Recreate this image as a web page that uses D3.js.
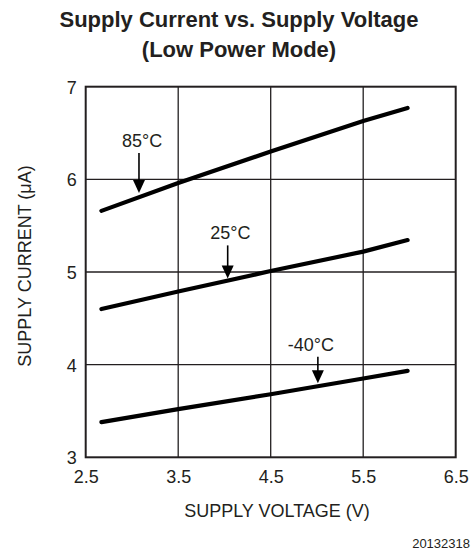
<!DOCTYPE html>
<html>
<head>
<meta charset="utf-8">
<script src="https://cdn.jsdelivr.net/npm/d3@7"></script>
<style>
  html, body { margin: 0; padding: 0; background: #fff; }
  svg { display: block; font-family: Arial, "Liberation Sans", Helvetica, sans-serif; }
</style>
</head>
<body>
<svg id="chart" width="473" height="552"></svg>
<script>
// Supply voltage sample points (V)
const voltage = [2.67, 3.5, 4.5, 5.5, 5.98];
// Supply current (µA) per temperature
const current85 = [5.66, 5.96, 6.30, 6.63, 6.77];
const current25 = [4.60, 4.79, 5.01, 5.22, 5.345];
const currentM40 = [3.38, 3.52, 3.68, 3.85, 3.933];

const seriesNames = ["85°C", "25°C", "-40°C"];
const seriesValues = [current85, current25, currentM40];

// Annotation arrows: label, arrow voltage, label voltage, label current, arrow tip current
const annoLabels = ["85°C", "25°C", "-40°C"];
const annoArrowV = [3.076, 4.035, 5.01];
const annoLabelV = [3.109, 4.065, 4.935];
const annoLabelI = [6.349, 5.352, 4.149];
const annoTipI = [5.852, 4.931, 3.80];

const xTicks = [2.5, 3.5, 4.5, 5.5, 6.5];
const yTicks = [3, 4, 5, 6, 7];

const svg = d3.select("#chart");
const plotLeft = 85.7, plotRight = 455.7, plotTop = 86.7, plotBottom = 457.3;

const x = d3.scaleLinear().domain([2.5, 6.5]).range([plotLeft, plotRight]);
const y = d3.scaleLinear().domain([3, 7]).range([plotBottom, plotTop]);

// Title
const title = svg.append("text")
  .attr("text-anchor", "middle")
  .attr("font-weight", "bold").attr("font-size", 22).attr("fill", "#231f20");
title.append("tspan").attr("x", 239).attr("y", 27).text("Supply Current vs. Supply Voltage");
title.append("tspan").attr("x", 239).attr("y", 57).text("(Low Power Mode)");

// Grid
const grid = svg.append("g").attr("stroke", "#231f20").attr("stroke-width", 1.3);
grid.selectAll("line.v").data(xTicks.slice(1, -1)).join("line")
  .attr("class", "v")
  .attr("x1", d => x(d)).attr("x2", d => x(d)).attr("y1", plotTop).attr("y2", plotBottom);
grid.selectAll("line.h").data(yTicks.slice(1, -1)).join("line")
  .attr("class", "h")
  .attr("y1", d => y(d)).attr("y2", d => y(d)).attr("x1", plotLeft).attr("x2", plotRight);

// Frame
svg.append("rect")
  .attr("x", plotLeft).attr("y", plotTop)
  .attr("width", plotRight - plotLeft).attr("height", plotBottom - plotTop)
  .attr("fill", "none").attr("stroke", "#231f20").attr("stroke-width", 2);

// Axes (labels only)
const xAxis = svg.append("g").attr("transform", `translate(0,${plotBottom})`)
  .call(d3.axisBottom(x).tickValues(xTicks).tickFormat(d3.format(".1f")).tickSize(0).tickPadding(0));
xAxis.select(".domain").remove();
xAxis.selectAll("text").attr("font-size", 18).attr("fill", "#231f20")
  .attr("font-family", "Arial, 'Liberation Sans', sans-serif")
  .attr("dy", null).attr("y", 26);

const yAxis = svg.append("g").attr("transform", `translate(${plotLeft},0)`)
  .call(d3.axisLeft(y).tickValues(yTicks).tickFormat(d3.format("d")).tickSize(0).tickPadding(0));
yAxis.select(".domain").remove();
yAxis.selectAll("text").attr("font-size", 18).attr("fill", "#231f20")
  .attr("font-family", "Arial, 'Liberation Sans', sans-serif")
  .attr("x", -9).attr("dy", "0.36em");

// Axis titles
svg.append("text").attr("x", 277).attr("y", 517).attr("text-anchor", "middle")
  .attr("font-size", 18).attr("fill", "#231f20").text("SUPPLY VOLTAGE (V)");
svg.append("text").attr("transform", "translate(31,266) rotate(-90)").attr("text-anchor", "middle")
  .attr("font-size", 18).attr("fill", "#231f20").text("SUPPLY CURRENT (μA)");
svg.append("text").attr("x", 470).attr("y", 548).attr("text-anchor", "end")
  .attr("font-size", 13).attr("fill", "#231f20").text("20132318");

// Curves
const line = d3.line().x((d, i) => x(voltage[i])).y(d => y(d));
svg.append("g").selectAll("path").data(seriesValues).join("path")
  .attr("d", line).attr("fill", "none").attr("stroke", "#000")
  .attr("stroke-width", 4.2).attr("stroke-linecap", "round");

// Annotations
const anno = svg.append("g");
annoLabels.forEach((lab, i) => {
  const ax = x(annoArrowV[i]);
  const ly = y(annoLabelI[i]);
  const ty = y(annoTipI[i]);
  anno.append("text").attr("x", x(annoLabelV[i])).attr("y", ly).attr("text-anchor", "middle")
    .attr("font-size", 18).attr("fill", "#231f20").text(lab);
  anno.append("line").attr("x1", ax).attr("x2", ax).attr("y1", ly + 6).attr("y2", ty - 10)
    .attr("stroke", "#000").attr("stroke-width", 1.6);
  anno.append("path")
    .attr("d", `M${ax - 6},${ty - 13}L${ax + 6},${ty - 13}L${ax},${ty}Z`)
    .attr("fill", "#000");
});
</script>
</body>
</html>
